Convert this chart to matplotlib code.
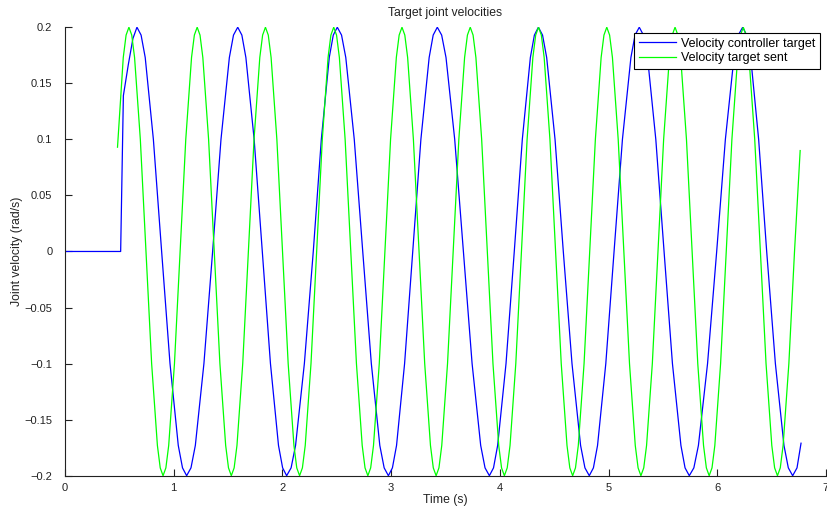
import matplotlib
matplotlib.use("Agg")
import matplotlib.pyplot as plt

plt.rcParams['font.family'] = ['Liberation Sans', 'DejaVu Sans']

# values (time in s, velocity in rad/s)
blue_t = [0.0, 0.512, 0.537, 0.583, 0.625, 0.662,
          0.700, 0.738, 0.813, 0.889, 0.966, 1.042, 1.081, 1.119,
          1.159, 1.199, 1.278, 1.358, 1.435, 1.512, 1.550, 1.589,
          1.627, 1.664, 1.740, 1.815, 1.890, 1.964, 2.002, 2.039,
          2.080, 2.121, 2.202, 2.284, 2.358, 2.431, 2.468, 2.505,
          2.544, 2.583, 2.661, 2.739, 2.818, 2.896, 2.936, 2.975,
          3.012, 3.050, 3.124, 3.199, 3.274, 3.350, 3.387, 3.425,
          3.465, 3.505, 3.585, 3.665, 3.745, 3.824, 3.864, 3.904,
          3.942, 3.980, 4.057, 4.133, 4.207, 4.281, 4.318, 4.355,
          4.393, 4.431, 4.508, 4.584, 4.664, 4.743, 4.783, 4.823,
          4.861, 4.899, 4.975, 5.051, 5.128, 5.206, 5.244, 5.283,
          5.321, 5.359, 5.435, 5.511, 5.588, 5.666, 5.704, 5.743,
          5.785, 5.827, 5.911, 5.995, 6.075, 6.154, 6.194, 6.234,
          6.271, 6.308, 6.381, 6.455, 6.535, 6.614, 6.654, 6.694,
          6.734, 6.771]
blue_v = [0.0, 0.0, 0.139, 0.167, 0.19, 0.2,
          0.193, 0.173, 0.1, 0.0, -0.1, -0.173, -0.193, -0.2,
          -0.193, -0.173, -0.1, 0.0, 0.1, 0.173, 0.193, 0.2,
          0.193, 0.173, 0.1, 0.0, -0.1, -0.173, -0.193, -0.2,
          -0.193, -0.173, -0.1, 0.0, 0.1, 0.173, 0.193, 0.2,
          0.193, 0.173, 0.1, 0.0, -0.1, -0.173, -0.193, -0.2,
          -0.193, -0.173, -0.1, 0.0, 0.1, 0.173, 0.193, 0.2,
          0.193, 0.173, 0.1, 0.0, -0.1, -0.173, -0.193, -0.2,
          -0.193, -0.173, -0.1, 0.0, 0.1, 0.173, 0.193, 0.2,
          0.193, 0.173, 0.1, 0.0, -0.1, -0.173, -0.193, -0.2,
          -0.193, -0.173, -0.1, 0.0, 0.1, 0.173, 0.193, 0.2,
          0.193, 0.173, 0.1, 0.0, -0.1, -0.173, -0.193, -0.2,
          -0.193, -0.173, -0.1, 0.0, 0.1, 0.173, 0.193, 0.2,
          0.193, 0.173, 0.1, 0.0, -0.1, -0.173, -0.193, -0.2,
          -0.193, -0.171]

green_t = [0.483, 0.536, 0.562,
           0.588, 0.614, 0.640, 0.693, 0.745, 0.797, 0.850, 0.876,
           0.902, 0.928, 0.954, 1.007, 1.059, 1.111, 1.164, 1.190,
           1.216, 1.242, 1.268, 1.321, 1.373, 1.425, 1.478, 1.504,
           1.530, 1.556, 1.582, 1.635, 1.687, 1.739, 1.792, 1.818,
           1.844, 1.870, 1.896, 1.949, 2.001, 2.053, 2.106, 2.132,
           2.158, 2.184, 2.210, 2.263, 2.315, 2.367, 2.420, 2.446,
           2.472, 2.498, 2.524, 2.577, 2.629, 2.681, 2.734, 2.760,
           2.786, 2.812, 2.838, 2.891, 2.943, 2.995, 3.048, 3.074,
           3.100, 3.126, 3.152, 3.205, 3.257, 3.309, 3.362, 3.388,
           3.414, 3.440, 3.466, 3.519, 3.571, 3.623, 3.676, 3.702,
           3.728, 3.754, 3.780, 3.833, 3.885, 3.937, 3.990, 4.016,
           4.042, 4.068, 4.094, 4.147, 4.199, 4.251, 4.304, 4.330,
           4.356, 4.382, 4.408, 4.461, 4.513, 4.565, 4.618, 4.644,
           4.670, 4.696, 4.722, 4.775, 4.827, 4.879, 4.932, 4.958,
           4.984, 5.010, 5.036, 5.089, 5.141, 5.193, 5.246, 5.272,
           5.298, 5.324, 5.350, 5.403, 5.455, 5.507, 5.560, 5.586,
           5.612, 5.638, 5.664, 5.717, 5.769, 5.821, 5.874, 5.900,
           5.926, 5.952, 5.978, 6.031, 6.083, 6.135, 6.188, 6.214,
           6.240, 6.266, 6.292, 6.345, 6.397, 6.449, 6.502, 6.528,
           6.554, 6.580, 6.606, 6.659, 6.711, 6.763]
green_v = [0.093, 0.173, 0.193,
           0.2, 0.193, 0.173, 0.1, 0.0, -0.1, -0.173, -0.193,
           -0.2, -0.193, -0.173, -0.1, 0.0, 0.1, 0.173, 0.193,
           0.2, 0.193, 0.173, 0.1, 0.0, -0.1, -0.173, -0.193,
           -0.2, -0.193, -0.173, -0.1, 0.0, 0.1, 0.173, 0.193,
           0.2, 0.193, 0.173, 0.1, 0.0, -0.1, -0.173, -0.193,
           -0.2, -0.193, -0.173, -0.1, 0.0, 0.1, 0.173, 0.193,
           0.2, 0.193, 0.173, 0.1, 0.0, -0.1, -0.173, -0.193,
           -0.2, -0.193, -0.173, -0.1, 0.0, 0.1, 0.173, 0.193,
           0.2, 0.193, 0.173, 0.1, 0.0, -0.1, -0.173, -0.193,
           -0.2, -0.193, -0.173, -0.1, 0.0, 0.1, 0.173, 0.193,
           0.2, 0.193, 0.173, 0.1, 0.0, -0.1, -0.173, -0.193,
           -0.2, -0.193, -0.173, -0.1, 0.0, 0.1, 0.173, 0.193,
           0.2, 0.193, 0.173, 0.1, 0.0, -0.1, -0.173, -0.193,
           -0.2, -0.193, -0.173, -0.1, 0.0, 0.1, 0.173, 0.193,
           0.2, 0.193, 0.173, 0.1, 0.0, -0.1, -0.173, -0.193,
           -0.2, -0.193, -0.173, -0.1, 0.0, 0.1, 0.173, 0.193,
           0.2, 0.193, 0.173, 0.1, 0.0, -0.1, -0.173, -0.193,
           -0.2, -0.193, -0.173, -0.1, 0.0, 0.1, 0.173, 0.193,
           0.2, 0.193, 0.173, 0.1, 0.0, -0.1, -0.173, -0.193,
           -0.2, -0.193, -0.173, -0.1, 0.0, 0.09]

x_ticks = [0, 1, 2, 3, 4, 5, 6, 7]
y_ticks = [-0.2, -0.15, -0.1, -0.05, 0, 0.05, 0.1, 0.15, 0.2]
y_tick_labels = ['\u22120.2', '\u22120.15', '\u22120.1', '\u22120.05', '0',
                 '0.05', '0.1', '0.15', '0.2']

fig = plt.figure(figsize=(8.28, 5.14), dpi=100)
ax = fig.add_axes([0.0785, 0.0745, 0.919, 0.8725])

ax.plot(blue_t, blue_v, color=(0, 0, 1), lw=0.9, label='Velocity controller target')
ax.plot(green_t, green_v, color=(0, 1, 0), lw=0.9, label='Velocity target sent')

ax.set_xlim(0, 7)
ax.set_ylim(-0.2, 0.2)
ax.set_xticks(x_ticks)
ax.set_xticklabels([str(x) for x in x_ticks])
ax.set_yticks(y_ticks)
ax.set_yticklabels(y_tick_labels)

for side in ['top', 'right']:
    ax.spines[side].set_visible(False)
for side in ['left', 'bottom']:
    ax.spines[side].set_linewidth(0.8)
    ax.spines[side].set_color('#222222')
ax.tick_params(axis='both', direction='in', length=5, width=0.8, labelsize=8, colors='#222222')
ax.tick_params(axis='x', pad=5)
ax.tick_params(axis='y', pad=9)

ax.set_xlabel('Time (s)', fontsize=8.8, labelpad=1, color='#222222')
ax.set_ylabel('Joint velocity (rad/s)', fontsize=8.8, labelpad=1, color='#222222')
ax.set_title('Target joint velocities', fontsize=8.8, pad=8, color='#222222')

leg = ax.legend(loc='upper right', bbox_to_anchor=(0.992, 0.9866), borderaxespad=0,
                fontsize=9, handlelength=3.0, handletextpad=0.4, labelspacing=0.2,
                borderpad=0.35, fancybox=False, framealpha=1)
leg.get_frame().set_edgecolor('black')
leg.get_frame().set_linewidth(0.8)

fig.savefig('out.png', dpi=100)
